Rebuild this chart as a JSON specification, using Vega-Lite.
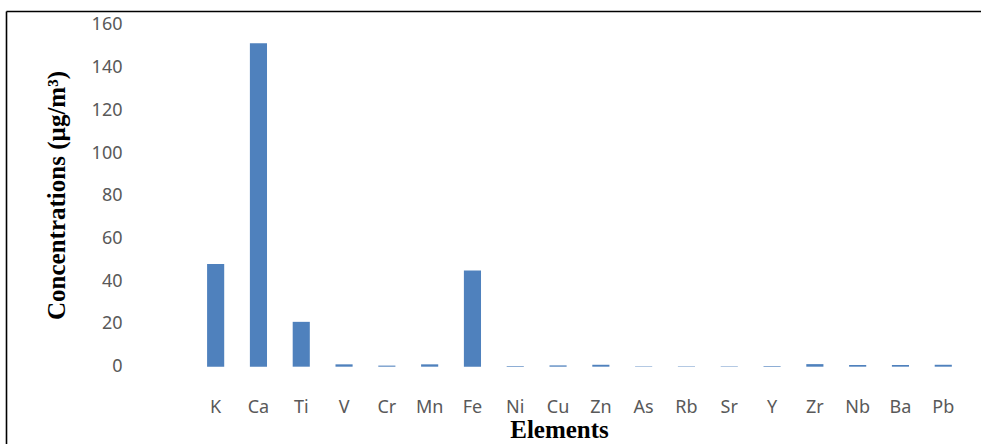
{
  "$schema": "https://vega.github.io/schema/vega-lite/v6.json",
  "width": 975,
  "height": 433,
  "autosize": "none",
  "padding": {"left": 6, "top": 11, "right": 0, "bottom": 0},
  "background": "white",
  "config": {"view": {"stroke": null}},
  "data": {
    "values": [
      {"element": "K", "value": 48.1},
      {"element": "Ca", "value": 151.4},
      {"element": "Ti", "value": 21.0},
      {"element": "V", "value": 1.1},
      {"element": "Cr", "value": 0.5},
      {"element": "Mn", "value": 1.1},
      {"element": "Fe", "value": 45.0},
      {"element": "Ni", "value": 0.3},
      {"element": "Cu", "value": 0.6},
      {"element": "Zn", "value": 0.9},
      {"element": "As", "value": 0.2},
      {"element": "Rb", "value": 0.2},
      {"element": "Sr", "value": 0.2},
      {"element": "Y", "value": 0.3},
      {"element": "Zr", "value": 1.2},
      {"element": "Nb", "value": 0.8},
      {"element": "Ba", "value": 0.8},
      {"element": "Pb", "value": 0.9}
    ]
  },
  "mark": {"type": "bar", "color": "#4F81BD"},
  "encoding": {
    "x": {
      "field": "element",
      "type": "nominal",
      "scale": {
        "domain": ["_1", "_2", "_3", "_4", "K", "Ca", "Ti", "V", "Cr", "Mn", "Fe", "Ni", "Cu", "Zn", "As", "Rb", "Sr", "Y", "Zr", "Nb", "Ba", "Pb"],
        "paddingInner": 0.6,
        "paddingOuter": 0.69,
        "align": 0.506
      },
      "axis": {
        "orient": "top",
        "values": ["K", "Ca", "Ti", "V", "Cr", "Mn", "Fe", "Ni", "Cu", "Zn", "As", "Rb", "Sr", "Y", "Zr", "Nb", "Ba", "Pb"],
        "title": "Elements",
        "titleFont": "Liberation Serif",
        "titleFontWeight": "bold",
        "titleFontSize": 25,
        "titleColor": "black",
        "titleX": 553,
        "titleY": 426,
        "titleBaseline": "alphabetic",
        "titleAlign": "center",
        "titleAnchor": null,
        "labelAngle": 0,
        "labelFont": "Noto Sans",
        "labelFontSize": 18,
        "labelColor": "#595959",
        "labelBaseline": "alphabetic",
        "labelAlign": "center",
        "labelPadding": -401,
        "ticks": false,
        "tickSize": 0,
        "domain": true,
        "domainColor": "black",
        "domainWidth": 1.6,
        "grid": false
      }
    },
    "y": {
      "field": "value",
      "type": "quantitative",
      "scale": {"domain": [-36.2, 166.55], "nice": false, "zero": false},
      "axis": {
        "orient": "left",
        "values": [0, 20, 40, 60, 80, 100, 120, 140, 160],
        "title": "Concentrations (µg/m³)",
        "titleFont": "Liberation Serif",
        "titleFontWeight": "bold",
        "titleFontSize": 25,
        "titleColor": "black",
        "titleAngle": -90,
        "titleX": 58,
        "titleY": 184,
        "titleBaseline": "alphabetic",
        "titleAlign": "center",
        "titleAnchor": null,
        "labelFont": "Noto Sans",
        "labelFontSize": 18,
        "labelColor": "#595959",
        "labelAlign": "right",
        "labelBaseline": "middle",
        "labelPadding": -116,
        "ticks": false,
        "tickSize": 0,
        "domain": true,
        "domainColor": "black",
        "domainWidth": 1.6,
        "grid": false
      }
    },
    "y2": {"datum": 0}
  }
}
